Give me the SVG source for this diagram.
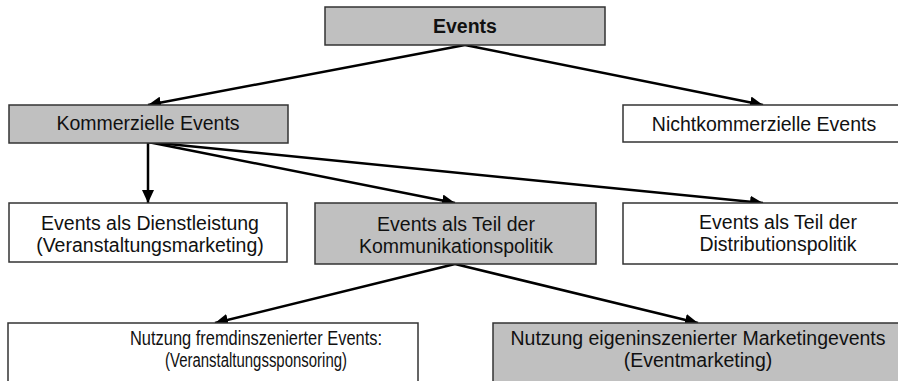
<svg xmlns="http://www.w3.org/2000/svg" width="898" height="381" viewBox="0 0 898 381">
<style>
.box{stroke:#333;stroke-width:1.5}
.g{fill:#c0c0c0}
.w{fill:#fff}
text{font-family:"Liberation Sans",Arial,sans-serif;font-size:19.5px;fill:#111;text-anchor:middle}
.b{font-weight:bold}
.c{stroke:#000;stroke-width:2.5;fill:none;marker-end:url(#ah)}
</style>
<defs>
<marker id="ah" markerUnits="userSpaceOnUse" markerWidth="14" markerHeight="12" refX="13" refY="6" orient="auto">
<path d="M0,0 L13,6 L0,12 z" fill="#000"/>
</marker>
</defs>
<rect width="898" height="381" fill="#fff"/>
<g id="connectors">
<line class="c" x1="465" y1="45" x2="148" y2="105"/>
<line class="c" x1="465" y1="45" x2="763" y2="105"/>
<line class="c" x1="148" y1="142" x2="148" y2="203"/>
<line class="c" x1="148" y1="142" x2="455" y2="203"/>
<line class="c" x1="148" y1="142" x2="763" y2="203"/>
<line class="c" x1="455" y1="264" x2="215" y2="323"/>
<line class="c" x1="455" y1="264" x2="698" y2="323"/>
</g>
<g id="events">
<rect class="box g" x="325" y="7" width="280" height="38"/>
<text class="b" x="465" y="33">Events</text>
</g>
<g id="kommerzielle">
<rect class="box g" x="9" y="105" width="279" height="38"/>
<text x="148" y="130">Kommerzielle Events</text>
</g>
<g id="nichtkommerzielle">
<rect class="box w" x="623" y="105" width="290" height="37"/>
<text x="764" y="131">Nichtkommerzielle Events</text>
</g>
<g id="dienstleistung">
<rect class="box w" x="9" y="203" width="278" height="59"/>
<text x="150" y="230">Events als Dienstleistung</text>
<text x="150" y="252">(Veranstaltungsmarketing)</text>
</g>
<g id="kommunikation">
<rect class="box g" x="315" y="203" width="281" height="61"/>
<text x="456" y="231">Events als Teil der</text>
<text x="456" y="253">Kommunikationspolitik</text>
</g>
<g id="distribution">
<rect class="box w" x="623" y="203" width="310" height="61"/>
<text x="778" y="229">Events als Teil der</text>
<text x="778" y="251">Distributionspolitik</text>
</g>
<g id="fremd">
<rect class="box w" x="8" y="323" width="410" height="70"/>
<text x="256" y="345" textLength="252" lengthAdjust="spacingAndGlyphs">Nutzung fremdinszenierter Events:</text>
<text x="256" y="367" textLength="182" lengthAdjust="spacingAndGlyphs">(Veranstaltungssponsoring)</text>
</g>
<g id="eigen">
<rect class="box g" x="493" y="323" width="420" height="70"/>
<text x="698" y="345">Nutzung eigeninszenierter Marketingevents</text>
<text x="698" y="367">(Eventmarketing)</text>
</g>
</svg>
